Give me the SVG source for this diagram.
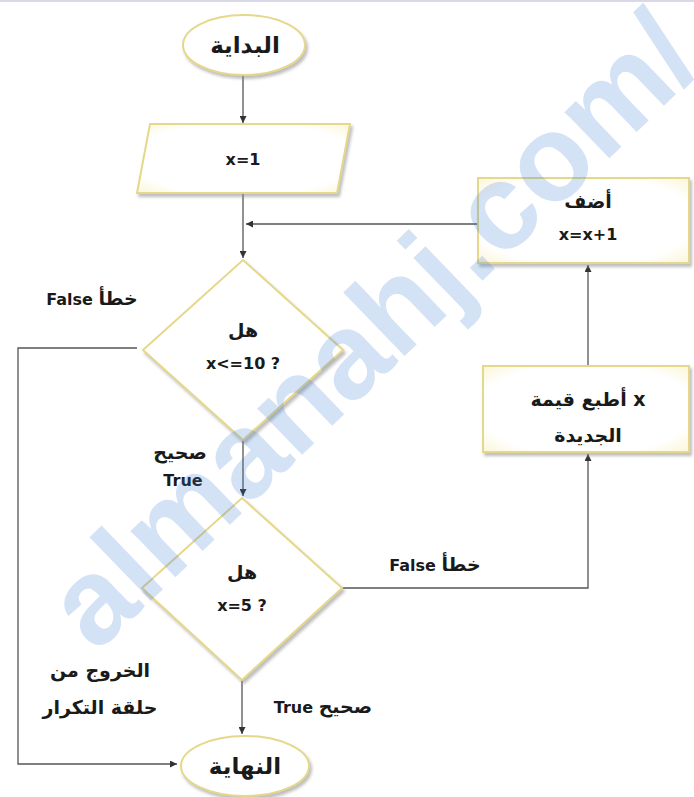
<svg xmlns="http://www.w3.org/2000/svg" width="694" height="797" viewBox="0 0 694 797">
<defs>
<style>
.shape{fill:url(#fillG);stroke:#e6d88a;stroke-width:2;filter:url(#sh)}
.t{font-family:"DejaVu Sans","Liberation Sans",sans-serif;font-weight:bold;font-size:16px;fill:#1a1a1a;text-anchor:middle}
.ar{font-size:19px}
.big{font-size:23px}
.c{fill:none;stroke:#555;stroke-width:1.3}
.wm{font-family:"Liberation Sans",Arial,sans-serif;font-weight:bold;font-size:122px;fill:#3b7ad6;fill-opacity:0.22}
</style>
<radialGradient id="fillG" cx="50%" cy="50%" r="70%">
<stop offset="0" stop-color="#ffffff"/>
<stop offset="0.75" stop-color="#ffffff"/>
<stop offset="1" stop-color="#fbf6d8"/>
</radialGradient>
<filter id="sh" x="-10%" y="-10%" width="125%" height="130%">
<feDropShadow dx="2" dy="3" stdDeviation="1.5" flood-color="#888" flood-opacity="0.55"/>
</filter>
<marker id="ar" viewBox="0 0 10 10" refX="10" refY="5" markerWidth="7" markerHeight="7" orient="auto" markerUnits="userSpaceOnUse">
<path d="M0,0 L10,5 L0,10 z" fill="#333"/>
</marker>
</defs>
<rect x="0" y="0" width="694" height="797" fill="#ffffff"/>
<rect x="0" y="0" width="694" height="2" fill="#d8d8e6"/>

<g id="connectors">
<path class="c" d="M243,75 V123" marker-end="url(#ar)"/>
<path class="c" d="M243,194 V258" marker-end="url(#ar)"/>
<path class="c" d="M478,224 H246" marker-end="url(#ar)"/>
<path class="c" d="M243,440 V496" marker-end="url(#ar)"/>
<path class="c" d="M137,348 H18 V764 H177" marker-end="url(#ar)"/>
<path class="c" d="M342,588 H588 V454" marker-end="url(#ar)"/>
<path class="c" d="M588,366 V265" marker-end="url(#ar)"/>
<path class="c" d="M242,680 V734" marker-end="url(#ar)"/>
</g>

<g id="start">
<ellipse class="shape" cx="244" cy="45" rx="61" ry="30"/>
<text class="t big" x="245" y="53">البداية</text>
</g>

<g id="init">
<polygon class="shape" points="150,124 350,124 337,193 137,193"/>
<text class="t" x="243" y="165">x=1</text>
</g>

<g id="cond1">
<polygon class="shape" points="243,260 343,350 243,440 143,350"/>
<text class="t ar" x="243" y="337">هل</text>
<text class="t" x="243" y="369">x&lt;=10 ?</text>
</g>

<g id="cond2">
<polygon class="shape" points="242,498 342,588 242,680 142,588"/>
<text class="t ar" x="242" y="579">هل</text>
<text class="t" x="242" y="611">x=5 ?</text>
</g>

<g id="add">
<rect class="shape" x="478" y="178" width="211" height="85"/>
<text class="t ar" x="588" y="208">أضف</text>
<text class="t" x="588" y="240">x=x+1</text>
</g>

<g id="print">
<rect class="shape" x="483" y="366" width="206" height="86"/>
<text class="t ar" x="588" y="406">أطبع قيمة x</text>
<text class="t ar" x="588" y="442">الجديدة</text>
</g>

<g id="end">
<ellipse class="shape" cx="245" cy="766" rx="64" ry="30"/>
<text class="t big" x="245" y="774">النهاية</text>
</g>

<g id="labels">
<text class="t" x="92" y="305">False <tspan class="ar">خطأ</tspan></text>
<text class="t ar" x="180" y="459">صحيح</text>
<text class="t" x="183" y="486">True</text>
<text class="t" x="435" y="571">False <tspan class="ar">خطأ</tspan></text>
<text class="t" x="323" y="713">True <tspan class="ar">صحيح</tspan></text>
<text class="t ar" x="100" y="677">الخروج من</text>
<text class="t ar" x="100" y="714">حلقة التكرار</text>
</g>

<text class="wm" x="96" y="654" transform="rotate(-44 96 654)">almanahj.com/</text>
</svg>
